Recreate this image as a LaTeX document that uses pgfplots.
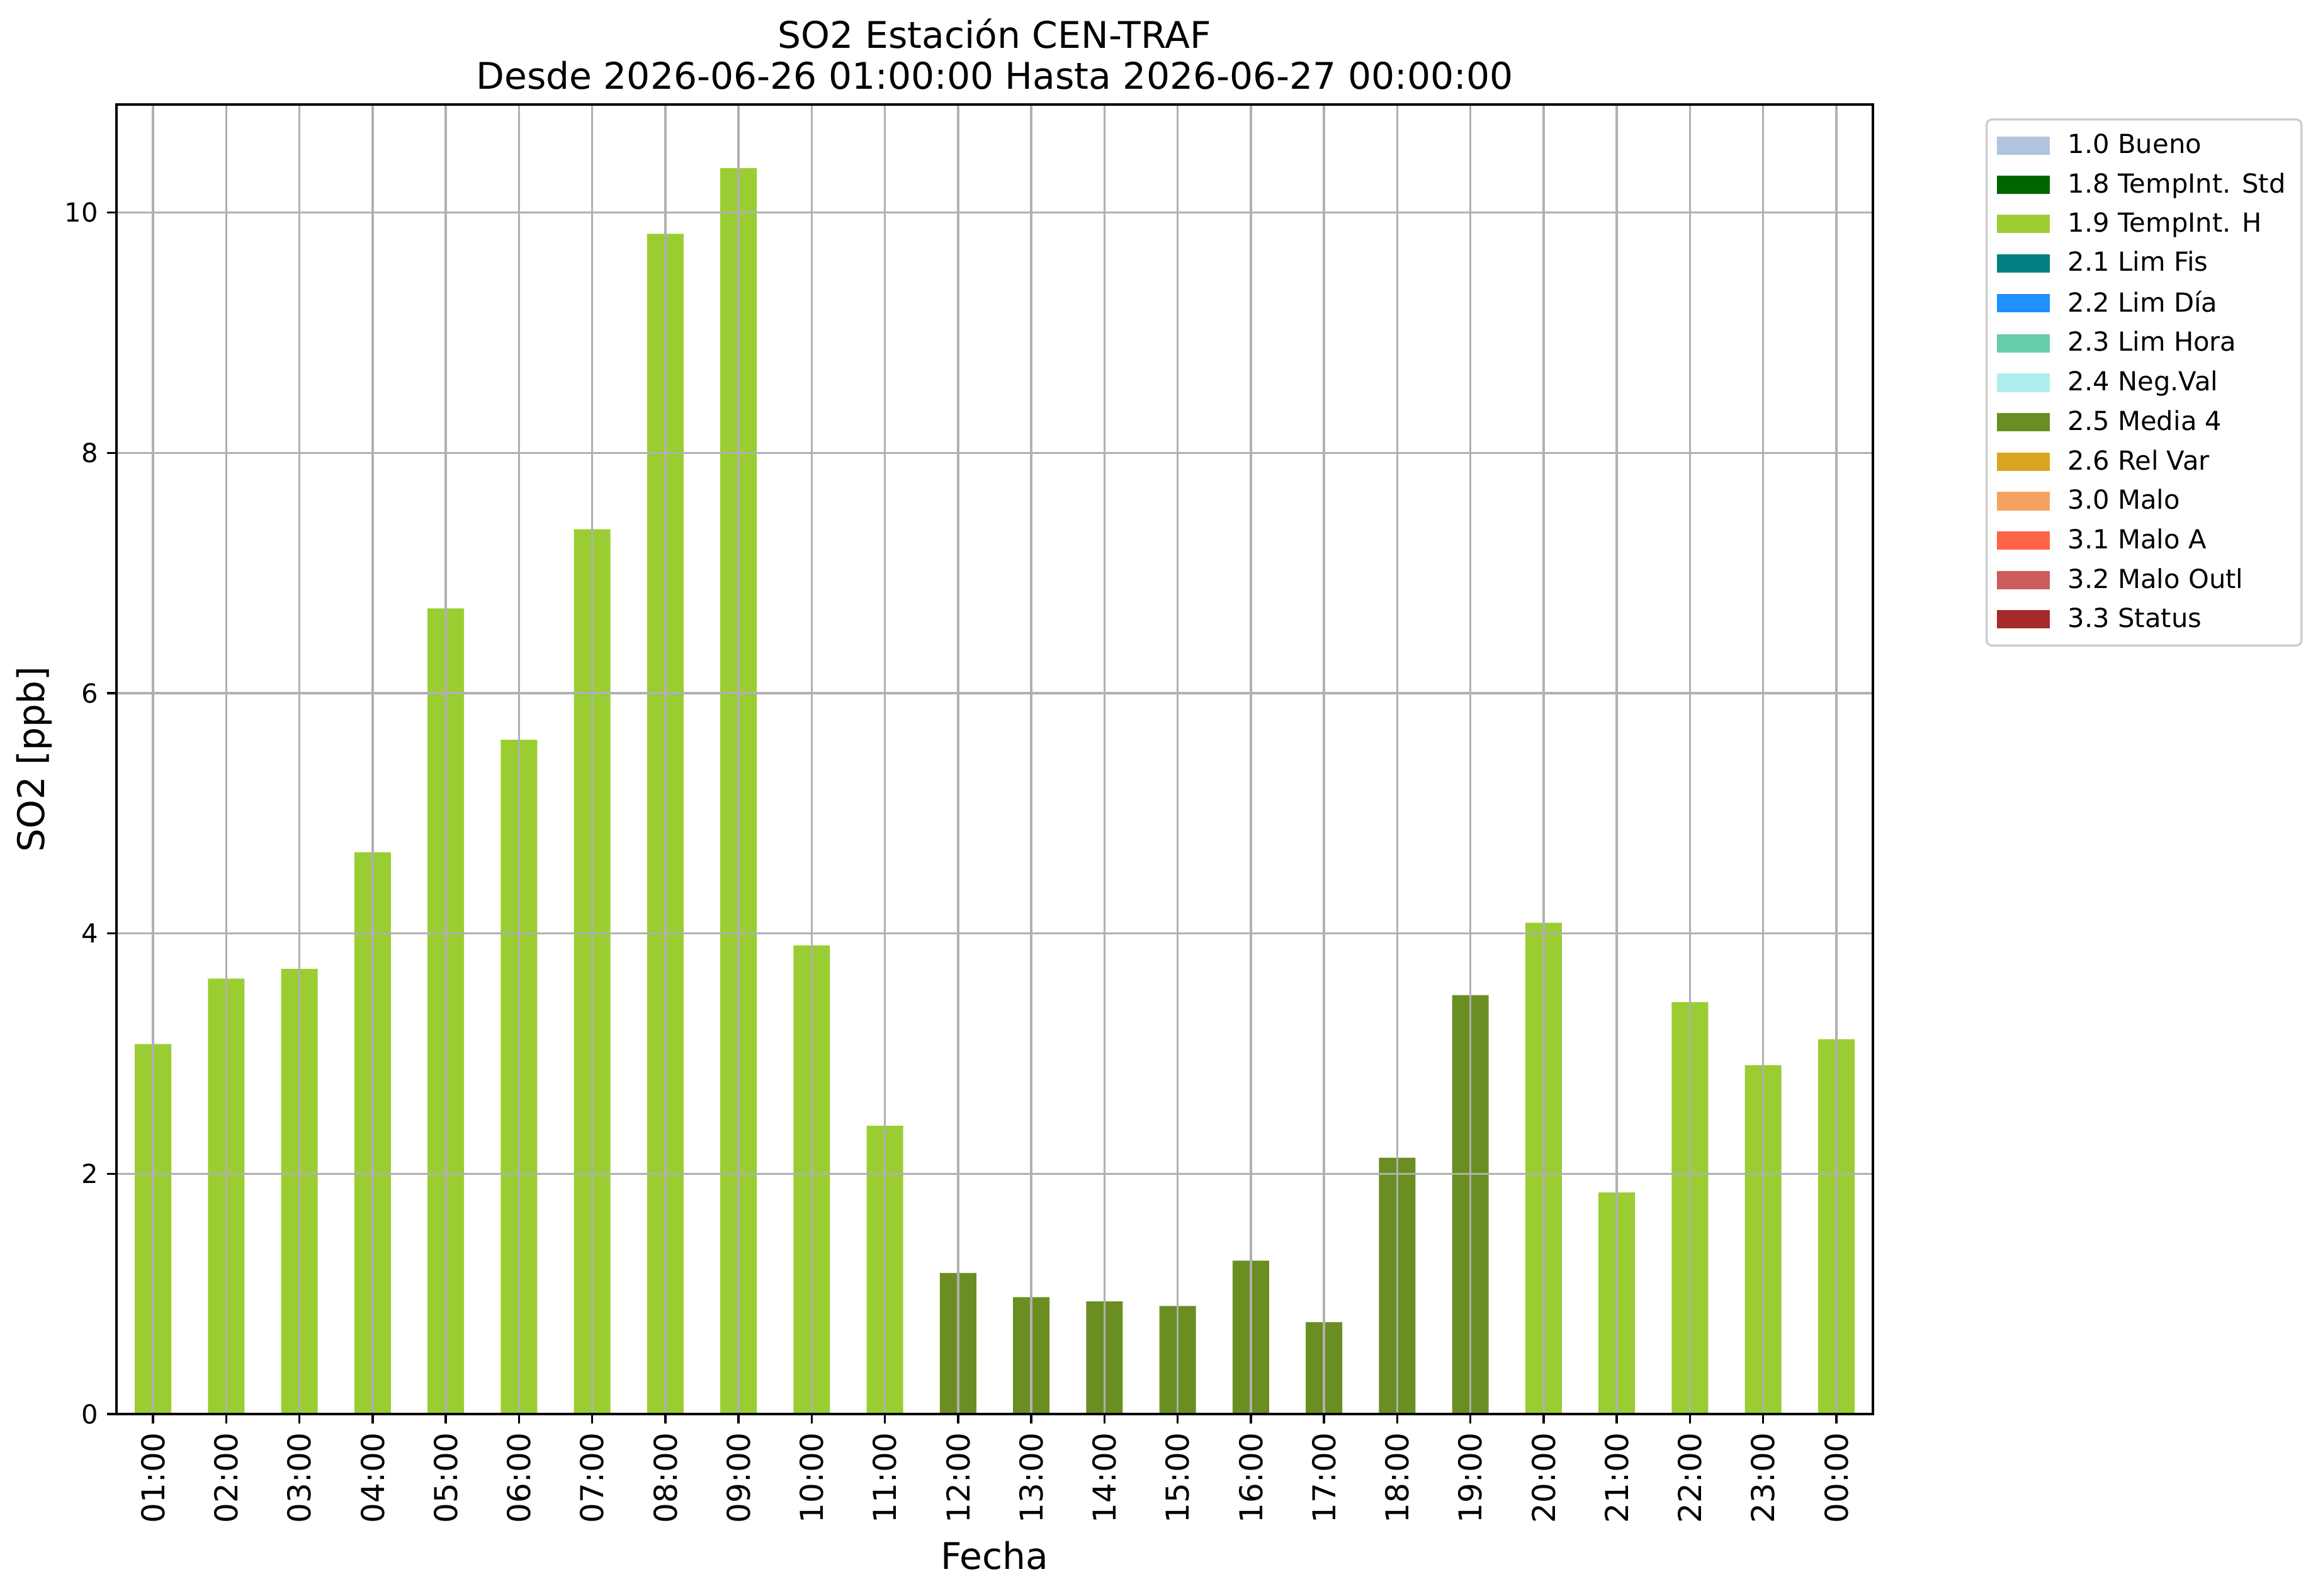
\documentclass[border=0pt]{standalone}
\usepackage{pgfplots}
\pgfplotsset{compat=1.18}
\usepackage{fontspec}
\setmainfont{DejaVu Sans}
\definecolor{lightsteelblue}{RGB}{176,196,222}
\definecolor{darkgreenc}{RGB}{0,100,0}
\definecolor{yellowgreen}{RGB}{154,205,50}
\definecolor{tealc}{RGB}{0,128,128}
\definecolor{dodgerblue}{RGB}{30,144,255}
\definecolor{mediumaquamarine}{RGB}{102,205,170}
\definecolor{paleturquoise}{RGB}{175,238,238}
\definecolor{olivedrab}{RGB}{107,142,35}
\definecolor{goldenrod}{RGB}{218,165,32}
\definecolor{sandybrown}{RGB}{244,164,96}
\definecolor{tomato}{RGB}{255,99,71}
\definecolor{indianred}{RGB}{205,92,92}
\definecolor{brownc}{RGB}{165,42,42}
\definecolor{gridgray}{RGB}{176,176,176}
\begin{document}
\begin{tikzpicture}
\begin{axis}[
  name=ax,
  at={(0,0)}, anchor=south west,
  scale only axis,
  width=669.6pt, height=499.2pt,
  xmin=-0.5, xmax=23.5,
  ymin=0, ymax=10.9,
  ytick={0,2,4,6,8,10},
  xtick={0,...,23},
  xticklabels={01:00,02:00,03:00,04:00,05:00,06:00,07:00,08:00,09:00,10:00,11:00,12:00,13:00,14:00,15:00,16:00,17:00,18:00,19:00,20:00,21:00,22:00,23:00,00:00},
  x tick label style={rotate=90, anchor=east, font=\fontsize{12}{14}\selectfont},
  y tick label style={font=\fontsize{10}{12}\selectfont},
  /pgf/number format/assume math mode=true,
  tick align=outside,
  xtick pos=left, ytick pos=left,
  major tick length=3.5pt,
  every tick/.style={black, line width=0.8pt},
  axis line style={line width=0.8pt},
  grid=major,
  major grid style={gridgray, line width=0.8pt},
  axis on top,
  xlabel={Fecha},
  ylabel={SO2 [ppb]},
  ylabel shift=-2pt,
  xlabel style={font=\fontsize{14}{17}\selectfont},
  ylabel style={font=\fontsize{14}{17}\selectfont},
  title={SO2 Estación CEN-TRAF\\Desde 2026-06-26 01:00:00 Hasta 2026-06-27 00:00:00},
  title style={font=\fontsize{14}{15.6}\selectfont, align=center, at={(0.5,1)}, anchor=south, yshift=-3.75pt},
  ybar, bar width=0.5, bar shift=0pt,
  legend cell align=left,
  legend style={at={(1.0642,0.9894)}, anchor=north west,
    font=\fontsize{10}{12}\selectfont,
    draw=black!20, line width=0.8pt, rounded corners=2pt,
    row sep=1.95pt, column sep=5pt, inner xsep=4pt, inner ysep=3.5pt},
  legend image code/.code={\fill[#1, sharp corners] (0pt,-3.5pt) rectangle (20pt,3.5pt);},
]
\addlegendimage{fill=lightsteelblue, draw=none}
\addlegendentry{1.0 Bueno}
\addlegendimage{fill=darkgreenc, draw=none}
\addlegendentry{1.8 TempInt. Std}
\addlegendimage{fill=yellowgreen, draw=none}
\addlegendentry{1.9 TempInt. H}
\addlegendimage{fill=tealc, draw=none}
\addlegendentry{2.1 Lim Fis}
\addlegendimage{fill=dodgerblue, draw=none}
\addlegendentry{2.2 Lim Día}
\addlegendimage{fill=mediumaquamarine, draw=none}
\addlegendentry{2.3 Lim Hora}
\addlegendimage{fill=paleturquoise, draw=none}
\addlegendentry{2.4 Neg.Val}
\addlegendimage{fill=olivedrab, draw=none}
\addlegendentry{2.5 Media 4}
\addlegendimage{fill=goldenrod, draw=none}
\addlegendentry{2.6 Rel Var}
\addlegendimage{fill=sandybrown, draw=none}
\addlegendentry{3.0 Malo}
\addlegendimage{fill=tomato, draw=none}
\addlegendentry{3.1 Malo A}
\addlegendimage{fill=indianred, draw=none}
\addlegendentry{3.2 Malo Outl}
\addlegendimage{fill=brownc, draw=none}
\addlegendentry{3.3 Status}
% 1.9 TempInt. H
\addplot[fill=yellowgreen, draw=none, forget plot] coordinates {
(0,3.08) (1,3.625) (2,3.705) (3,4.677) (4,6.706) (5,5.612) (6,7.365) (7,9.824) (8,10.37) (9,3.901) (10,2.40)
(19,4.089) (20,1.844) (21,3.429) (22,2.904) (23,3.120)};
% 2.5 Media 4
\addplot[fill=olivedrab, draw=none, forget plot] coordinates {
(11,1.174) (12,0.973) (13,0.938) (14,0.899) (15,1.277) (16,0.764) (17,2.133) (18,3.487)};
\end{axis}
\pgfresetboundingbox
\path[use as bounding box] (-44.4pt,-69.12pt) rectangle (839.28pt,539.04pt);
\end{tikzpicture}
\end{document}
